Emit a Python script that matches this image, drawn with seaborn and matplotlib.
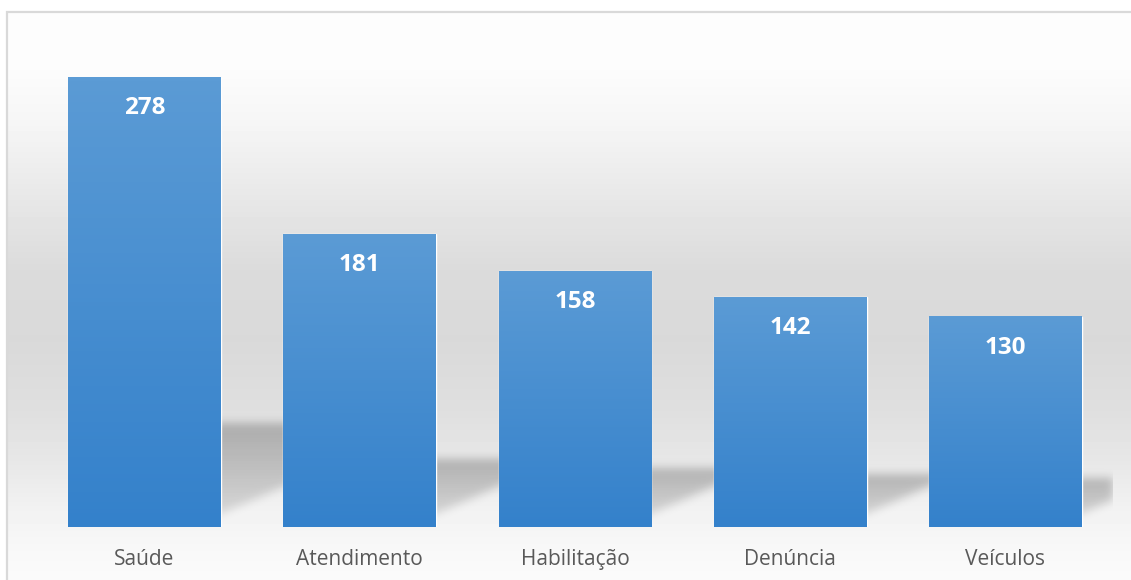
import numpy as np
import matplotlib
matplotlib.use("Agg")
import matplotlib.pyplot as plt
from matplotlib.colors import LinearSegmentedColormap
from matplotlib.patches import Rectangle
import seaborn as sns

# data
categories = ["Saúde", "Atendimento", "Habilitação", "Denúncia", "Veículos"]
values = [278, 181, 158, 142, 130]

sns.set_theme(style="white")
plt.rcParams["font.family"] = ["Open Sans", "DejaVu Sans"]

W, H = 1131, 580
YMAX = 300
PX_PER_UNIT = 450 / 278  # pixel height of one unit on the value axis
PX_PER_CAT = 215         # pixel distance between two categories
BAR_WIDTH = 0.71

fig = plt.figure(figsize=(W / 100, H / 100), dpi=100, facecolor="white")

# chart area background: white at top, grey band, back to white at the bottom
bg_ax = fig.add_axes([7 / W, 0, 1 - 7 / W, (H - 12) / H])
stops_y = [12, 70, 120, 200, 270, 340, 410, 460, 510, 550, 580]
stops_g = [253, 252, 246, 231, 219, 217, 223, 231, 242, 248, 251]
rows = np.interp(np.arange(12, H), stops_y, stops_g) / 255
bg_ax.imshow(np.repeat(rows[:, None], 8, axis=1), cmap="gray", vmin=0, vmax=1,
             aspect="auto", extent=(0, 1, 0, 1), interpolation="nearest")
bg_ax.set_axis_off()

fig.add_artist(Rectangle((7 / W, -0.1), 1.2, (H - 12) / H + 0.1,
                         transform=fig.transFigure, fill=False,
                         edgecolor="#d9d9d9", lw=1.6))

ax = fig.add_axes([37 / W, 53 / H, 1076 / W, YMAX * PX_PER_UNIT / H])
ax.set_facecolor("none")

sns.barplot(x=categories, y=values, ax=ax, width=BAR_WIDTH, color="#4a8fd1", zorder=3)
ax.set_xlim(-0.5, len(categories) - 0.5)
ax.set_ylim(0, YMAX)

# soft cast shadows behind the bars: flat top, right side leaning to the right
nx, ny = 1076, int(YMAX * PX_PER_UNIT)
gx = np.linspace(-0.5, len(categories) - 0.5, nx)
gy = np.linspace(YMAX, 0, ny)
X, Y = np.meshgrid(gx, gy)
shade = np.zeros_like(X)
half = BAR_WIDTH / 2
inset = 30 / PX_PER_CAT
for i, v in enumerate(values):
    top = 0.23 * v
    shift = 2.3 * top * PX_PER_UNIT / PX_PER_CAT
    t = Y / top
    right = i + half - inset + t * shift
    inside = (t >= 0) & (t <= 1) & (X >= i - half + inset) & (X <= right)
    shade = np.maximum(shade, np.where(inside, 0.10 + 0.14 * t, 0))

sigma = 4.5
k = np.arange(-15, 16)
kernel = np.exp(-0.5 * (k / sigma) ** 2)
kernel /= kernel.sum()
shade = np.apply_along_axis(lambda r: np.convolve(r, kernel, mode="same"), 1, shade)
shade = np.apply_along_axis(lambda c: np.convolve(c, kernel, mode="same"), 0, shade)
rgba = np.zeros((ny, nx, 4))
rgba[..., 3] = shade
ax.imshow(rgba, extent=(-0.5, len(categories) - 0.5, 0, YMAX), aspect="auto",
          interpolation="nearest", zorder=1)

# vertical gradient on every bar
bar_cmap = LinearSegmentedColormap.from_list("bar", ["#3481cb", "#5b9bd5"])
for patch in ax.patches:
    x0, w, h = patch.get_x(), patch.get_width(), patch.get_height()
    ax.imshow(np.linspace(1, 0, 128)[:, None], cmap=bar_cmap, vmin=0, vmax=1,
              extent=(x0, x0 + w, 0, h), aspect="auto", zorder=4)

for i, v in enumerate(values):
    ax.annotate(str(v), (i, v), xytext=(0, -22.5), textcoords="offset points",
                ha="center", va="center", color="white", fontsize=17.5,
                fontweight="bold", zorder=5)

ax.set_xlim(-0.5, len(categories) - 0.5)
ax.set_ylim(0, YMAX)
ax.set_yticks([])
ax.set_xlabel("")
ax.set_ylabel("")
ax.tick_params(axis="x", length=0, pad=15.5, labelsize=15, labelcolor="#595959")
for s in ax.spines.values():
    s.set_visible(False)

fig.savefig("out.png", dpi=100, facecolor="white")
